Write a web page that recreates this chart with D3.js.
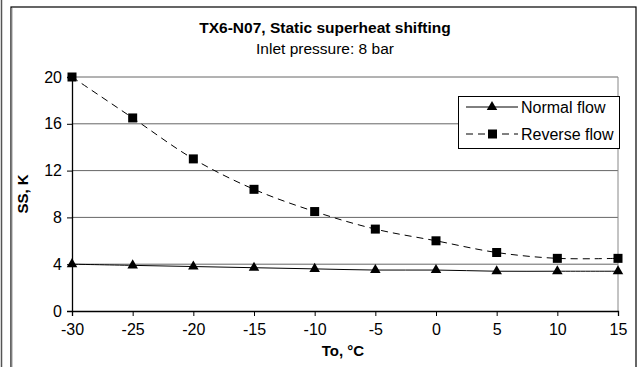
<!DOCTYPE html>
<html><head><meta charset="utf-8">
<script src="https://cdn.jsdelivr.net/npm/d3@7"></script>
<style>body{margin:0;background:#fff}svg{display:block;font-family:"Liberation Sans",Arial,sans-serif}</style>
</head><body>
<svg id="c" width="639" height="367"></svg>
<script>
const temps = [-30, -25, -20, -15, -10, -5, 0, 5, 10, 15];
const normalFlow = [4.0, 3.9, 3.8, 3.7, 3.6, 3.5, 3.5, 3.4, 3.4, 3.4];
const reverseFlow = [20, 16.5, 13, 10.4, 8.5, 7.0, 6.0, 5.0, 4.5, 4.5];
const yTicks = [0, 4, 8, 12, 16, 20];
const seriesNames = ["Normal flow", "Reverse flow"];
const titleText = "TX6-N07, Static superheat shifting";
const subtitleText = "Inlet pressure: 8 bar";
const xLabel = "To, °C";
const yLabel = "SS, K";

const svg = d3.select("#c");
// outer frames
svg.append("line").attr("x1",1.5).attr("x2",1.5).attr("y1",0).attr("y2",367).attr("stroke","#555").attr("stroke-width",1.5);
svg.append("rect").attr("x",11).attr("y",7).attr("width",625).attr("height",380).attr("fill","none").attr("stroke","#000").attr("stroke-width",1.2);
svg.append("line").attr("x1",12).attr("x2",12).attr("y1",8).attr("y2",367).attr("stroke","#999").attr("stroke-width",1);

const x = d3.scaleLinear().domain([-30, 15]).range([72, 618]);
const y = d3.scaleLinear().domain([0, 20]).range([311, 77]);

// gridlines
svg.append("g").selectAll("line").data(yTicks.filter(d => d > 0)).join("line")
  .attr("x1", x(-30)).attr("x2", x(15)).attr("y1", d => y(d)).attr("y2", d => y(d))
  .attr("stroke", "#666").attr("stroke-width", 1);
// right plot border
svg.append("line").attr("x1", x(15)).attr("x2", x(15)).attr("y1", y(20)).attr("y2", y(0)).attr("stroke","#888");

// axes
const fmt = d => String(d);
const yAxis = d3.axisLeft(y).tickValues(yTicks).tickSize(5).tickPadding(5).tickFormat(fmt);
const gy = svg.append("g").attr("transform", `translate(${x(-30)},0)`).call(yAxis);
const xAxis = d3.axisBottom(x).tickValues(temps).tickSize(5).tickPadding(8).tickFormat(fmt);
const gx = svg.append("g").attr("transform", `translate(0,${y(0)})`).call(xAxis);
[gx, gy].forEach(g => {
  g.attr("font-size", null).attr("font-family", null);
  g.select(".domain").attr("stroke", "#000").attr("stroke-width", 1.3);
  g.selectAll(".tick line").attr("stroke", "#000");
  g.selectAll("text").style("font-size", "16px").attr("fill", "#000");
});

const normalData = temps.map((t, i) => [t, normalFlow[i]]);
const reverseData = temps.map((t, i) => [t, reverseFlow[i]]);
const line = d3.line().x(d => x(d[0])).y(d => y(d[1])).curve(d3.curveCatmullRom.alpha(0.5));

svg.append("path").attr("d", line(reverseData)).attr("fill","none").attr("stroke","#000").attr("stroke-width",1).attr("stroke-dasharray","7,5");
svg.append("path").attr("d", line(normalData)).attr("fill","none").attr("stroke","#000").attr("stroke-width",1);

const tri = d3.symbol().type(d3.symbolTriangle).size(48);
svg.append("g").selectAll("path").data(normalData).join("path")
  .attr("transform", d => `translate(${x(d[0])},${y(d[1])})`).attr("d", tri).attr("fill", "#000");
svg.append("g").selectAll("rect").data(reverseData).join("rect")
  .attr("x", d => x(d[0]) - 4.5).attr("y", d => y(d[1]) - 4.5).attr("width", 9).attr("height", 9).attr("fill", "#000");

// titles
svg.append("text").attr("x", 325).attr("y", 33).attr("text-anchor","middle").style("font-size","15.5px").attr("font-weight","bold").text(titleText);
svg.append("text").attr("x", 325).attr("y", 54).attr("text-anchor","middle").style("font-size","15.5px").text(subtitleText);
svg.append("text").attr("x", 343).attr("y", 356).attr("text-anchor","middle").style("font-size","15px").attr("font-weight","bold").text(xLabel);
svg.append("text").attr("transform","translate(28,194) rotate(-90)").attr("text-anchor","middle").style("font-size","15px").attr("font-weight","bold").text(yLabel);

// legend
const lg = svg.append("g");
lg.append("rect").attr("x",458.5).attr("y",96.5).attr("width",161).attr("height",52).attr("fill","#fff").attr("stroke","#000");
const rows = [107, 134];
lg.append("line").attr("x1",466).attr("x2",518).attr("y1",rows[0]).attr("y2",rows[0]).attr("stroke","#000");
lg.append("path").attr("transform",`translate(492,${rows[0]})`).attr("d", tri).attr("fill","#000");
lg.append("line").attr("x1",466).attr("x2",518).attr("y1",rows[1]).attr("y2",rows[1]).attr("stroke","#000").attr("stroke-dasharray","7,5");
lg.append("rect").attr("x",488).attr("y",rows[1]-4.5).attr("width",9).attr("height",9).attr("fill","#000");
lg.selectAll("text").data(seriesNames).join("text").attr("x",521).attr("y",(d,i)=>rows[i]+6).style("font-size","16px").text(d=>d);
</script>
</body></html>
